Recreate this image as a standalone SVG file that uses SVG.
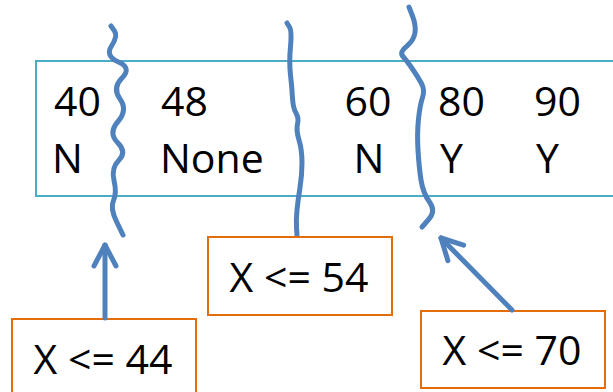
<svg xmlns="http://www.w3.org/2000/svg" width="613" height="392" viewBox="0 0 613 392">
<defs>
<style>
.t{font-family:"Open Sans","Liberation Sans",sans-serif;font-size:41px;fill:#000}
.m{text-anchor:middle}
.data{fill:#fff;stroke:#4BACC6;stroke-width:2}
.cond{fill:#fff;stroke:#E46C0A;stroke-width:2}
.wave{fill:none;stroke:#4F81BD;stroke-width:5;stroke-linecap:round;stroke-linejoin:round}
.arrow{fill:none;stroke:#4F81BD;stroke-width:5;stroke-linecap:round}
</style>
<marker id="ah" markerUnits="userSpaceOnUse" viewBox="-24 -14 28 28" refX="0" refY="0" markerWidth="28" markerHeight="28" orient="auto" overflow="visible">
<path d="M-21,-11 L0,0 L-21,11" fill="none" stroke="#4F81BD" stroke-width="5" stroke-linecap="round" stroke-linejoin="round"/>
</marker>
</defs>
<rect width="613" height="392" fill="#fff"/>
<g id="data">
<rect class="data" x="36" y="61" width="590" height="135"/>
<text class="t" x="54" y="116">40</text>
<text class="t" x="52" y="173">N</text>
<text class="t" x="161" y="116">48</text>
<text class="t" x="160" y="173">None</text>
<text class="t m" x="368" y="116">60</text>
<text class="t m" x="369" y="173">N</text>
<text class="t" x="438" y="116">80</text>
<text class="t" x="440" y="173">Y</text>
<text class="t" x="534" y="116">90</text>
<text class="t" x="536" y="173">Y</text>
</g>
<g id="splits">
<path id="split44" class="wave" d="M111,26 L114.5,31 Q118,36 111.5,46 Q105,56 118.5,62 Q132,68 122,78 Q112,88 120,99 Q128,110 118,121.5 Q108,133 117.5,142.5 Q127,152 119,160 Q111,168 114,180.5 Q117,193 113.5,200.5 Q110,208 116.5,221.5 L123,235"/>
<path id="split54" class="wave" d="M287,23 L289.5,27 Q292,31 290.5,46.5 Q289,62 290.5,75 Q292,88 292.5,98 Q293,108 296,113 Q299,118 297.5,124 Q296,130 299,140 Q302,150 302,162.5 Q302,175 300,187.5 Q298,200 297,210 Q296,220 296.5,227.5 L297,235"/>
<path id="split70" class="wave" d="M409,7 L412.5,16 Q416,25 415,32.5 Q414,40 407,46 Q399,52 403,56.5 Q407,61 412.5,69 Q418,77 421.5,83.5 Q425,90 422.5,97.5 Q420,105 418.5,119 Q417,133 418,150 Q419,167 421,180 Q423,193 429.5,202 Q436,211 429,219 L422,227"/>
</g>
<g id="cond44">
<rect class="cond" x="12" y="319" width="184" height="90"/>
<text class="t m" x="103" y="374">X &lt;= 44</text>
</g>
<g id="cond54">
<rect class="cond" x="208" y="237" width="184" height="78"/>
<text class="t m" x="299" y="292">X &lt;= 54</text>
</g>
<g id="cond70">
<rect class="cond" x="421" y="311" width="184" height="77"/>
<text class="t m" x="512" y="365">X &lt;= 70</text>
</g>
<g id="connectors">
<line class="arrow" x1="105" y1="318" x2="105" y2="245" marker-end="url(#ah)"/>
<line class="arrow" x1="512" y1="310" x2="441" y2="238" marker-end="url(#ah)"/>
</g>
</svg>
